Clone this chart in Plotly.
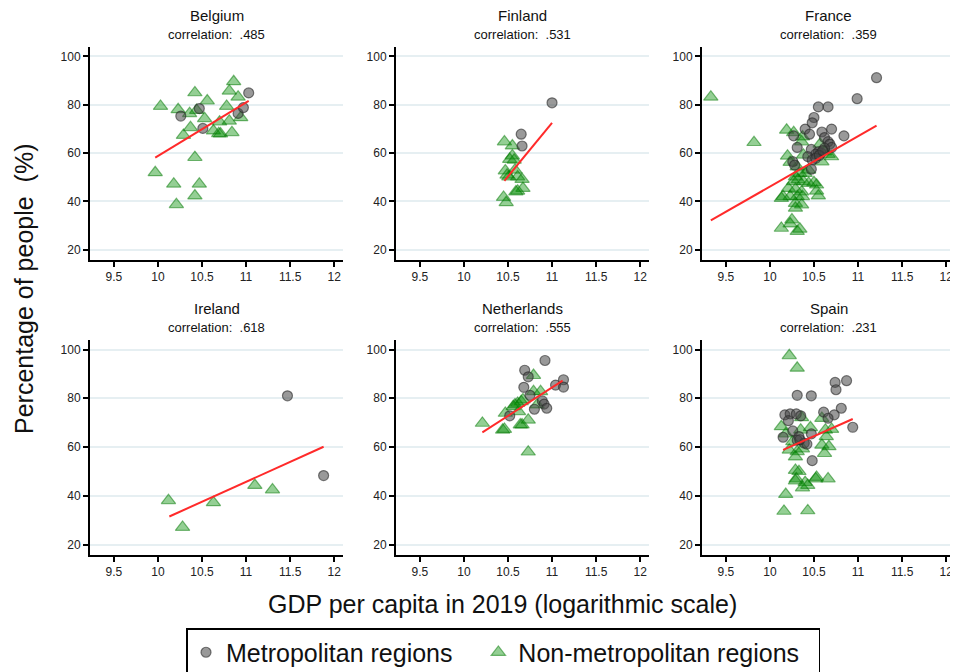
import plotly.graph_objects as go

# ---------------- data ----------------
countries = ["Belgium", "Finland", "France", "Ireland", "Netherlands", "Spain"]
correlations = [".485", ".531", ".359", ".618", ".555", ".231"]
series_names = ["Metropolitan regions", "Non-metropolitan regions"]

be_metro_x = [10.26, 10.47, 10.51, 10.91, 10.97, 11.03]
be_metro_y = [75.3, 78.4, 70.2, 76.4, 78.8, 84.9]
be_non_x = [10.03, 9.97, 10.23, 10.36, 10.42, 10.44, 10.56, 10.53, 10.37, 10.29, 10.42, 10.18, 10.47,
            10.42, 10.21, 10.63, 10.69, 10.71, 10.70, 10.78, 10.81, 10.81, 10.86, 10.91, 10.84, 10.94]
be_non_y = [79.4, 51.9, 78.0, 76.4, 85.0, 77.7, 81.6, 74.3, 70.6, 67.4, 58.2, 47.2, 47.2,
            42.3, 38.7, 69.2, 68.1, 68.0, 72.9, 79.4, 73.3, 85.7, 89.6, 83.2, 68.5, 74.7]
be_fit_x = [9.97, 11.03]
be_fit_y = [58.1, 81.6]

fi_metro_x = [11.00, 10.65, 10.66]
fi_metro_y = [80.8, 67.8, 62.9]
fi_non_x = [10.46, 10.55, 10.55, 10.52, 10.57, 10.47, 10.51, 10.58, 10.61, 10.66, 10.67, 10.61, 10.59,
            10.45, 10.48, 10.49]
fi_non_y = [64.7, 63.0, 58.9, 57.4, 57.1, 52.7, 50.2, 53.0, 50.2, 49.1, 45.4, 44.3, 44.0,
            41.7, 39.5, 50.9]
fi_fit_x = [10.46, 11.00]
fi_fit_y = [48.5, 72.5]

fr_metro_x = [11.21, 10.99, 10.55, 10.66, 10.50, 10.48, 10.40, 10.45, 10.27, 10.59, 10.70, 10.84, 10.62,
              10.66, 10.68, 10.70, 10.31, 10.47, 10.55, 10.58, 10.52, 10.43, 10.48, 10.52, 10.26, 10.47,
              10.62, 10.28, 10.56, 10.60]
fr_metro_y = [91.2, 82.5, 79.1, 79.1, 74.7, 72.5, 69.9, 67.8, 67.1, 68.7, 69.9, 67.1, 66.4,
              64.7, 63.7, 62.3, 62.3, 61.5, 60.5, 60.1, 59.5, 58.5, 57.1, 57.8, 56.4, 53.3,
              62.0, 55.0, 59.0, 61.0]
fr_non_x = [9.33, 9.82, 10.19, 10.27, 10.37, 10.36, 10.20, 10.23, 10.38, 10.57, 10.59, 10.70, 10.31,
            10.34, 10.29, 10.40, 10.27, 10.32, 10.38, 10.44, 10.50, 10.53, 10.21, 10.29, 10.36, 10.53,
            10.15, 10.23, 10.31, 10.37, 10.55, 10.29, 10.36, 10.29, 10.25, 10.23, 10.13, 10.31, 10.34,
            10.13, 10.44, 10.62, 10.66]
fr_non_y = [83.2, 64.4, 69.5, 68.5, 66.7, 64.7, 58.8, 56.2, 59.2, 63.7, 56.4, 58.5, 54.3,
            51.6, 50.2, 51.6, 48.2, 48.9, 48.2, 47.5, 47.8, 46.8, 45.4, 45.0, 44.0, 44.3,
            42.0, 42.0, 42.0, 42.0, 42.3, 39.2, 38.6, 37.2, 32.4, 30.7, 28.9, 27.6, 28.5,
            41.3, 53.0, 60.5, 59.5]
fr_fit_x = [9.33, 11.21]
fr_fit_y = [32.1, 71.3]

ie_metro_x = [11.47, 11.88]
ie_metro_y = [81.0, 48.3]
ie_non_x = [10.12, 10.28, 10.63, 11.10, 11.30]
ie_non_y = [38.1, 27.1, 37.2, 44.3, 42.5]
ie_fit_x = [10.13, 11.88]
ie_fit_y = [31.5, 60.1]

nl_metro_x = [10.92, 10.69, 10.73, 10.68, 10.75, 11.04, 11.13, 11.13, 10.80, 10.89, 10.91, 10.94, 10.52]
nl_metro_y = [95.5, 91.5, 88.8, 84.5, 81.2, 85.4, 87.6, 84.6, 75.5, 78.9, 77.6, 75.9, 72.8]
nl_non_x = [10.21, 10.44, 10.46, 10.47, 10.56, 10.61, 10.65, 10.67, 10.62, 10.64, 10.66, 10.73, 10.79,
            10.79, 10.87, 10.83, 10.73, 10.58]
nl_non_y = [69.8, 67.0, 67.3, 73.9, 76.6, 78.0, 78.7, 79.4, 74.6, 69.1, 69.1, 71.1, 89.4,
            82.8, 82.8, 77.3, 58.0, 77.3]
nl_fit_x = [10.21, 11.12]
nl_fit_y = [66.0, 87.2]

es_metro_x = [10.87, 10.74, 10.75, 10.31, 10.47, 10.81, 10.73, 10.61, 10.66, 10.94, 10.17, 10.23, 10.30,
              10.35, 10.21, 10.26, 10.15, 10.33, 10.47, 10.31, 10.39, 10.42, 10.48, 10.34]
es_metro_y = [87.2, 86.5, 83.5, 81.2, 81.0, 75.9, 73.2, 74.3, 71.8, 68.1, 73.2, 73.6, 73.6,
              72.8, 70.8, 66.6, 64.0, 64.3, 65.4, 62.8, 61.6, 61.2, 54.4, 63.0]
es_non_x = [10.22, 10.31, 10.13, 10.18, 10.26, 10.35, 10.36, 10.46, 10.59, 10.63, 10.64, 10.70, 10.59,
            10.67, 10.62, 10.22, 10.31, 10.37, 10.29, 10.29, 10.33, 10.30, 10.29, 10.40, 10.43, 10.37,
            10.52, 10.53, 10.66, 10.18, 10.16, 10.43]
es_non_y = [97.5, 92.4, 68.4, 65.4, 62.3, 67.0, 72.1, 68.0, 71.8, 67.0, 64.3, 67.3, 60.8,
            60.2, 57.4, 58.8, 58.2, 59.3, 56.0, 50.5, 50.0, 47.0, 46.2, 45.5, 44.3, 43.3,
            47.0, 47.6, 47.0, 40.6, 33.7, 33.9]
es_fit_x = [10.15, 10.94]
es_fit_y = [58.8, 71.5]

metro_x = [be_metro_x, fi_metro_x, fr_metro_x, ie_metro_x, nl_metro_x, es_metro_x]
metro_y = [be_metro_y, fi_metro_y, fr_metro_y, ie_metro_y, nl_metro_y, es_metro_y]
non_x = [be_non_x, fi_non_x, fr_non_x, ie_non_x, nl_non_x, es_non_x]
non_y = [be_non_y, fi_non_y, fr_non_y, ie_non_y, nl_non_y, es_non_y]
fit_x = [be_fit_x, fi_fit_x, fr_fit_x, ie_fit_x, nl_fit_x, es_fit_x]
fit_y = [be_fit_y, fi_fit_y, fr_fit_y, ie_fit_y, nl_fit_y, es_fit_y]

x_ticks = [9.5, 10, 10.5, 11, 11.5, 12]
x_tick_labels = ["9.5", "10", "10.5", "11", "11.5", "12"]
y_ticks = [20, 40, 60, 80, 100]

# ---------------- layout geometry (page pixels; page body has an 8px margin) ----------------
OFF = 8
W, H = 958 - OFF, 672 - OFF
col_px = [(90, 343), (396, 649), (702, 955)]
row_px = [(47, 260), (340, 555)]
FONT = "Liberation Sans, Arial, sans-serif"
NBSP = "\u00a0"


def fx(px):
    return (px - OFF) / W


def fy(py):
    return 1 - (py - OFF) / H


fig = go.Figure()
layout = dict(
    width=W, height=H,
    margin=dict(l=0, r=0, t=0, b=0, autoexpand=False),
    paper_bgcolor="white", plot_bgcolor="white",
    font=dict(family=FONT, color="#111111", size=12),
    showlegend=True,
    annotations=[],
)

metro_style = dict(symbol="circle", size=10, color="rgba(70,70,70,0.55)",
                   line=dict(color="rgba(40,40,40,0.6)", width=1.2))
non_style = dict(symbol="triangle-up", size=12.5, color="rgba(0,140,0,0.42)",
                 line=dict(color="rgba(0,120,0,0.5)", width=1.2))

for i, c in enumerate(countries):
    r, k = divmod(i, 3)
    n = i + 1
    xa = "x" if n == 1 else f"x{n}"
    ya = "y" if n == 1 else f"y{n}"
    x0, x1 = col_px[k]
    y0, y1 = row_px[r]
    layout["xaxis" if n == 1 else f"xaxis{n}"] = dict(
        domain=[fx(x0), fx(x1)], anchor=ya, range=[9.23, 12.1],
        tickmode="array", tickvals=x_ticks, ticktext=x_tick_labels,
        showgrid=False, zeroline=False, showline=True, linecolor="black", linewidth=2,
        ticks="outside", ticklen=5, tickwidth=1.5, tickcolor="black",
        tickfont=dict(size=12, color="#222222"), fixedrange=True,
        ticklabeloverflow="allow",
    )
    layout["yaxis" if n == 1 else f"yaxis{n}"] = dict(
        domain=[fy(y1), fy(y0)], anchor=xa, range=[15.7, 103.9],
        tickmode="array", tickvals=y_ticks,
        showgrid=True, gridcolor="#e6eff2", gridwidth=1.5, zeroline=False,
        showline=True, linecolor="black", linewidth=2,
        ticks="outside", ticklen=5, tickwidth=1.5, tickcolor="black",
        tickfont=dict(size=12, color="#222222"), fixedrange=True,
        ticklabeloverflow="allow",
    )
    fig.add_trace(go.Scatter(x=non_x[i], y=non_y[i], xaxis=xa, yaxis=ya, mode="markers",
                             marker=non_style, name=series_names[1] + NBSP * 2,
                             legendgroup="non", showlegend=(i == 0), legendrank=2))
    fig.add_trace(go.Scatter(x=metro_x[i], y=metro_y[i], xaxis=xa, yaxis=ya, mode="markers",
                             marker=metro_style, name=series_names[0] + NBSP * 3,
                             legendgroup="metro", showlegend=(i == 0), legendrank=1))
    fig.add_trace(go.Scatter(x=fit_x[i], y=fit_y[i], xaxis=xa, yaxis=ya, mode="lines",
                             line=dict(color="#ff2a2a", width=2), showlegend=False,
                             hoverinfo="skip"))
    cx = fx((x0 + x1) / 2)
    layout["annotations"].append(dict(
        text=c, x=cx, y=fy(y0 - 32), xref="paper", yref="paper",
        showarrow=False, xanchor="center", yanchor="middle", borderpad=0,
        font=dict(size=15, color="#111111")))
    layout["annotations"].append(dict(
        text=f"correlation:  {correlations[i]}", x=cx, y=fy(y0 - 13),
        xref="paper", yref="paper", showarrow=False, xanchor="center", yanchor="middle",
        font=dict(size=13, color="#111111")))

layout["annotations"].append(dict(
    text="Percentage of people  (%)", textangle=-90, x=fx(24), y=fy(289),
    xref="paper", yref="paper", showarrow=False, xanchor="center", yanchor="middle",
    font=dict(size=25, color="#111111")))
layout["annotations"].append(dict(
    text="GDP per capita in 2019 (logarithmic scale)", x=fx(503), y=fy(604),
    xref="paper", yref="paper", showarrow=False, xanchor="center", yanchor="middle",
    font=dict(size=25, color="#111111")))

layout["legend"] = dict(
    orientation="h", x=fx(186), xanchor="left", y=fy(628), yanchor="top",
    bgcolor="white", bordercolor="black", borderwidth=1.5,
    font=dict(size=25, color="#111111"), itemsizing="trace",
)

fig.update_layout(**layout)
fig.write_html("out.html")
